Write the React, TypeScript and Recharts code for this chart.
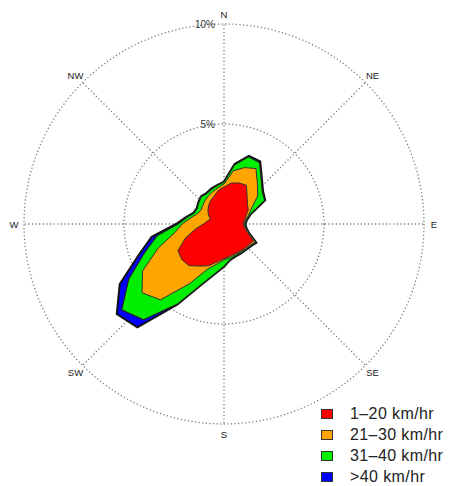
import React from "react";
import {
  RadarChart,
  Radar,
  PolarGrid,
  PolarAngleAxis,
  PolarRadiusAxis,
  Legend,
} from "recharts";

// Wind direction (degrees clockwise from North)
const directions = [
  0, 10, 20, 30, 40, 50, 60, 70, 80, 90, 100, 110, 120, 130, 140, 150, 160, 170,
  180, 190, 200, 210, 220, 230, 240, 250, 260, 270, 280, 290, 300, 310, 320, 330, 340, 350,
];

// Cumulative frequency (%) per speed class
const speed1to20 = [
  1.85, 2.08, 2.18, 2.24, 1.8, 1.53, 1.4, 1.17, 1.04, 0.95, 1.05, 1.25, 1.7, 1.62, 1.6, 1.57, 1.58, 1.64,
  1.74, 1.92, 2.22, 2.43, 2.72, 2.76, 2.66, 2.05, 1.45, 1.03, 0.85, 0.72, 0.9, 1.05, 1.2, 1.35, 1.47, 1.7,
];
const speed21to30 = [
  2.0, 2.7, 3.0, 3.2, 2.6, 2.2, 1.6, 1.3, 1.1, 1.0, 1.1, 1.3, 1.8, 1.68, 1.65, 1.62, 1.64, 1.7,
  1.8, 2.03, 2.4, 3.45, 4.95, 5.35, 4.7, 3.5, 2.5, 2.1, 1.7, 1.45, 1.35, 1.4, 1.5, 1.6, 1.7, 1.82,
];
const speed31to40 = [
  2.1, 3.0, 3.58, 3.55, 2.9, 2.5, 2.35, 1.4, 1.15, 1.05, 1.12, 1.32, 1.85, 1.72, 1.68, 1.68, 1.7, 1.8,
  2.12, 2.51, 3.19, 4.6, 6.26, 6.68, 5.5, 4.24, 3.4, 2.3, 1.9, 1.6, 1.55, 1.65, 1.78, 1.75, 1.85, 1.95,
];
const speedOver40 = [
  2.12, 3.05, 3.63, 3.62, 2.95, 2.55, 2.38, 1.42, 1.17, 1.07, 1.14, 1.34, 1.87, 1.74, 1.7, 1.7, 1.72, 1.82,
  2.14, 2.53, 3.21, 4.65, 6.74, 7.0, 6.02, 4.54, 3.67, 2.4, 1.95, 1.63, 1.58, 1.68, 1.8, 1.78, 1.88, 1.98,
];

const compassTicks = [0, 45, 90, 135, 180, 225, 270, 315];
const compassLabels = ["N", "NE", "E", "SE", "S", "SW", "W", "NW"];
const radiusTicks = [0, 5, 10];

const seriesNames = ["1\u201320 km/hr", "21\u201330 km/hr", "31\u201340 km/hr", ">40 km/hr"];
const seriesColors = ["#FF0000", "#FFA500", "#00EE00", "#0000FF"];

const data = directions.map((d, i) => ({
  dir: d,
  s1: speed1to20[i],
  s2: speed21to30[i],
  s3: speed31to40[i],
  s4: speedOver40[i],
}));

const FONT = "'Liberation Sans', Arial, Helvetica, sans-serif";

const AngleTick = (props: any) => {
  const { x, y, payload } = props;
  const idx = compassTicks.indexOf(payload.value);
  const label = idx >= 0 ? compassLabels[idx] : "";
  return (
    <text
      x={x}
      y={y}
      textAnchor="middle"
      dominantBaseline="central"
      fontSize={9.5}
      fontFamily={FONT}
      fill="#222"
    >
      {label}
    </text>
  );
};

const RadiusTick = (props: any) => {
  const { x, y, payload } = props;
  if (!payload || payload.value === 0) return null;
  return (
    <text
      x={x - 9}
      y={y}
      textAnchor="end"
      dominantBaseline="central"
      fontSize={10}
      fontFamily={FONT}
      fill="#333"
    >
      {`${payload.value}%`}
    </text>
  );
};

const LegendContent = () => (
  <div style={{ fontFamily: FONT }}>
    {seriesNames.map((name, i) => (
      <div key={name} style={{ display: "flex", alignItems: "center", height: 21 }}>
        <span
          style={{
            display: "inline-block",
            width: 12,
            height: 10,
            background: seriesColors[i],
            border: "1px solid #333",
            boxSizing: "border-box",
            marginRight: 17,
            flexShrink: 0,
          }}
        />
        <span style={{ fontSize: 16, letterSpacing: 0.4, color: "#222", whiteSpace: "nowrap" }}>
          {name}
        </span>
      </div>
    ))}
  </div>
);

export default function App() {
  return (
    <RadarChart
      width={445}
      height={478}
      data={data}
      cx={216}
      cy={216}
      outerRadius={200}
      startAngle={90}
      endAngle={-270}
      margin={{ top: 0, right: 0, bottom: 0, left: 0 }}
    >
      <PolarGrid
        gridType="circle"
        polarRadius={[100, 200]}
        stroke="#777"
        strokeWidth={1.3}
        strokeDasharray="1.2 2.4"
      />
      <Radar
        name={seriesNames[3]}
        dataKey="s4"
        fill={seriesColors[3]}
        fillOpacity={1}
        stroke="#111"
        strokeWidth={2}
        dot={false}
        isAnimationActive={false}
      />
      <Radar
        name={seriesNames[2]}
        dataKey="s3"
        fill={seriesColors[2]}
        fillOpacity={1}
        stroke="#222"
        strokeWidth={1.2}
        dot={false}
        isAnimationActive={false}
      />
      <Radar
        name={seriesNames[1]}
        dataKey="s2"
        fill={seriesColors[1]}
        fillOpacity={1}
        stroke="#333"
        strokeWidth={1}
        dot={false}
        isAnimationActive={false}
      />
      <Radar
        name={seriesNames[0]}
        dataKey="s1"
        fill={seriesColors[0]}
        fillOpacity={1}
        stroke="#333"
        strokeWidth={1}
        dot={false}
        isAnimationActive={false}
      />
      <PolarAngleAxis
        type="number"
        dataKey="dir"
        domain={[0, 360]}
        ticks={compassTicks}
        tick={AngleTick}
        tickSize={10}
        axisLine={false}
        tickLine={false}
      />
      <PolarRadiusAxis
        angle={90}
        domain={[0, 10]}
        ticks={radiusTicks}
        tickCount={3}
        tick={RadiusTick}
        axisLine={false}
        tickLine={false}
      />
      <Legend
        content={LegendContent}
        wrapperStyle={{ position: "absolute", left: 313, top: 395, width: 140 }}
      />
    </RadarChart>
  );
}
